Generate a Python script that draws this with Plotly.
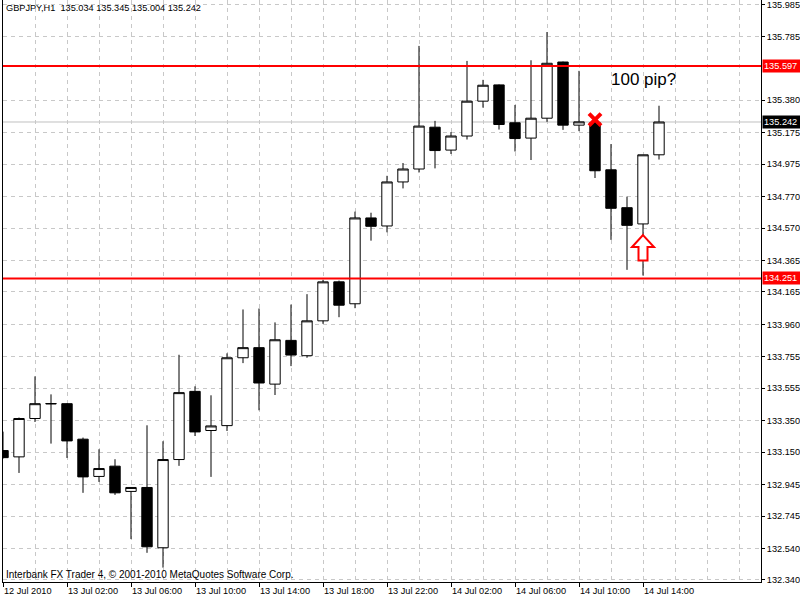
import plotly.graph_objects as go

# ---- data (GBPJPY, H1) ----
bar_index = list(range(42))
opens = [133.160, 133.120, 133.363, 133.455, 133.457, 133.232, 132.996, 133.061, 132.901, 132.926,
         132.544, 133.103, 133.535, 133.287, 133.318, 133.748, 133.812, 133.581, 133.858, 133.761,
         133.982, 134.229, 134.090, 134.634, 134.583, 134.862, 134.944, 135.209, 135.064, 135.153,
         135.374, 135.477, 135.237, 135.140, 135.266, 135.622, 135.222, 135.238, 134.939, 134.699,
         134.596, 135.034]
highs = [133.280, 133.369, 133.630, 133.516, 133.460, 133.242, 133.168, 133.105, 132.926, 133.320,
         133.219, 133.767, 133.567, 133.510, 133.776, 134.054, 134.060, 133.972, 134.085, 134.151,
         134.242, 134.237, 134.674, 134.667, 134.901, 134.982, 135.724, 135.249, 135.178, 135.629,
         135.509, 135.480, 135.350, 135.633, 135.812, 135.625, 135.566, 135.250, 135.102, 134.769,
         135.034, 135.345]
lows = [133.109, 133.018, 133.341, 133.204, 133.113, 132.892, 132.961, 132.879, 132.599, 132.512,
        132.418, 133.063, 133.252, 132.993, 133.284, 133.714, 133.415, 133.512, 133.695, 133.748,
        133.963, 134.005, 134.062, 134.490, 134.543, 134.821, 134.922, 134.948, 135.039, 135.131,
        135.333, 135.194, 135.055, 135.001, 135.243, 135.192, 135.184, 134.887, 134.495, 134.305,
        134.269, 135.004]
closes = [133.115, 133.363, 133.457, 133.458, 133.221, 132.993, 133.046, 132.892, 132.926, 132.550,
          133.103, 133.527, 133.278, 133.316, 133.748, 133.812, 133.588, 133.862, 133.765, 133.982,
          134.229, 134.081, 134.634, 134.581, 134.862, 134.944, 135.216, 135.061, 135.153, 135.374,
          135.475, 135.226, 135.137, 135.266, 135.614, 135.222, 135.243, 134.933, 134.695, 134.587,
          135.034, 135.242]

x_tick_pos = [0, 4, 8, 12, 16, 20, 24, 28, 32, 36, 40]
x_tick_labels = ["12 Jul 2010", "13 Jul 02:00", "13 Jul 06:00", "13 Jul 10:00", "13 Jul 14:00",
                 "13 Jul 18:00", "13 Jul 22:00", "14 Jul 02:00", "14 Jul 06:00", "14 Jul 10:00",
                 "14 Jul 14:00"]
y_ticks = [135.985, 135.785, 135.380, 135.175, 134.975, 134.770, 134.570, 134.365, 134.165,
           133.960, 133.755, 133.555, 133.350, 133.150, 132.945, 132.745, 132.540, 132.340]
y_tick_labels = [f"{v:.3f}" for v in y_ticks]

resistance = 135.597
support = 134.251
last_price = closes[-1]
header = "GBPJPY,H1  135.034 135.345 135.004 135.242"
footer = "Interbank FX Trader 4, \u00a9 2001-2010 MetaQuotes Software Corp."
note_text = "100 pip?"

FONT = "Liberation Sans, Arial, sans-serif"
FS = 9.2
GRID = "#c8c8c8"

fig = go.Figure()
fig.add_trace(go.Candlestick(
    x=bar_index, open=opens, high=highs, low=lows, close=closes,
    increasing=dict(line=dict(color="black", width=1), fillcolor="white"),
    decreasing=dict(line=dict(color="black", width=1), fillcolor="black"),
    whiskerwidth=0, hoverinfo="skip", showlegend=False,
))

# horizontal levels
for lvl in (resistance, support):
    fig.add_shape(type="line", xref="paper", x0=0, x1=1, yref="y", y0=lvl, y1=lvl,
                  line=dict(color="#ff0000", width=2), layer="above")
fig.add_shape(type="line", xref="paper", x0=0, x1=1, yref="y", y0=last_price, y1=last_price,
              line=dict(color="#c0c0c0", width=1), layer="below")

# red X mark over bar 37
fig.add_shape(type="path", xref="x", yref="y", xsizemode="pixel", ysizemode="pixel",
              xanchor=37, yanchor=135.257,
              path="M -6,-6 L 6,6 M -6,6 L 6,-6",
              line=dict(color="#ff0000", width=4), layer="above")
# hollow red up arrow under bar 40
fig.add_shape(type="path", xref="x", yref="y", xsizemode="pixel", ysizemode="pixel",
              xanchor=40, yanchor=134.443,
              path="M 0,13 L 11,1 L 4.5,1 L 4.5,-12.5 L -4.5,-12.5 L -4.5,1 L -11,1 Z",
              line=dict(color="#ff0000", width=2), fillcolor="white", layer="above")

annotations = [
    dict(text=header, xref="paper", yref="paper", x=0, y=1, xanchor="left", yanchor="top",
         xshift=1, yshift=-1, showarrow=False, font=dict(family=FONT, size=FS, color="black")),
    dict(text=footer, xref="paper", yref="paper", x=0, y=0, xanchor="left", yanchor="bottom",
         xshift=1, yshift=0, showarrow=False, font=dict(family=FONT, size=10, color="black")),
    dict(text=note_text, xref="x", yref="y", x=37.9, y=135.514, xanchor="left", yanchor="middle",
         showarrow=False, font=dict(family=FONT, size=17, color="black")),
    dict(text=f"{resistance:.3f}", xref="paper", yref="y", x=1, y=resistance, xanchor="left",
         yanchor="middle", xshift=1, showarrow=False, bgcolor="#ff0000", borderpad=1,
         width=36, align="left", font=dict(family=FONT, size=FS, color="white")),
    dict(text=f"{support:.3f}", xref="paper", yref="y", x=1, y=support, xanchor="left",
         yanchor="middle", xshift=1, showarrow=False, bgcolor="#ff0000", borderpad=1,
         width=36, align="left", font=dict(family=FONT, size=FS, color="white")),
    dict(text=f"{last_price:.3f}", xref="paper", yref="y", x=1, y=last_price, xanchor="left",
         yanchor="middle", xshift=1, showarrow=False, bgcolor="black", borderpad=1,
         width=36, align="left", font=dict(family=FONT, size=FS, color="white")),
]

fig.update_layout(
    width=800, height=600,
    margin=dict(l=3, r=39, t=0, b=18, autoexpand=False),
    paper_bgcolor="white", plot_bgcolor="white",
    showlegend=False,
    boxgap=0.0, boxgroupgap=0.35,
    annotations=annotations,
    font=dict(family=FONT, size=FS, color="black"),
    xaxis=dict(
        range=[0, 47.375], rangeslider=dict(visible=False), automargin=False,
        tickmode="array", tickvals=x_tick_pos, ticktext=x_tick_labels,
        tickangle=0, ticklabelposition="outside right",
        ticks="outside", ticklen=4, tickcolor="black", tickwidth=1,
        showline=True, linecolor="black", linewidth=1, mirror=False,
        showgrid=True, gridcolor=GRID, griddash="4px,4px", gridwidth=1,
        minor=dict(tickmode="linear", tick0=0, dtick=2, showgrid=True, gridcolor=GRID,
                   griddash="4px,4px", gridwidth=1, ticks=""),
        zeroline=False, tickfont=dict(family=FONT, size=FS, color="black"),
        ticklabeloverflow="allow", fixedrange=True,
    ),
    yaxis=dict(
        side="right", range=[132.327, 136.015], automargin=False,
        tickmode="array", tickvals=y_ticks, ticktext=y_tick_labels,
        ticks="outside", ticklen=3, tickcolor="black", tickwidth=1,
        showline=True, linecolor="black", linewidth=1, mirror=True,
        showgrid=True, gridcolor=GRID, griddash="4px,4px", gridwidth=1,
        zeroline=False, tickfont=dict(family=FONT, size=FS, color="black"),
        ticklabeloverflow="allow", fixedrange=True,
    ),
)

fig.write_html(
    "out.html",
    config={"displayModeBar": False, "staticPlot": True},
    post_script="document.body.style.margin='0';document.body.style.padding='0';"
                "document.body.style.overflow='hidden';",
)
